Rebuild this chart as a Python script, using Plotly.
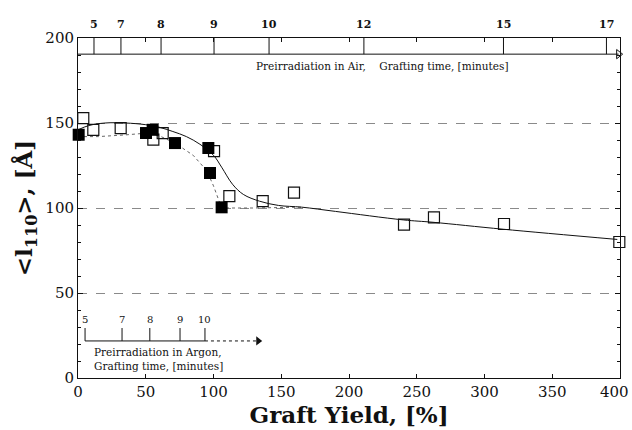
import plotly.graph_objects as go

# Crystallite size <l110> versus graft yield
# open squares: preirradiation in air; filled squares: preirradiation in argon
air_yield = [3.9, 11.3, 31.5, 55.6, 62.5, 100.4, 111.7, 136.3, 159.4, 240.6, 262.7, 314.4, 399.5]
air_l110 = [152.9, 146.0, 147.0, 140.2, 144.1, 133.5, 107.0, 104.0, 109.0, 90.2, 94.5, 90.6, 80.0]

argon_yield = [0.5, 50.2, 55.1, 71.6, 96.2, 97.4, 106.0]
argon_l110 = [143.1, 144.1, 146.0, 138.2, 135.3, 120.6, 100.4]

# trend curves
air_curve_yield = [0, 8, 20, 35, 50, 60, 70, 80, 90, 100, 106, 114, 122, 134, 148, 165, 190, 240, 262, 314, 398]
air_curve_l110 = [146, 148.5, 150, 150, 149, 147.5, 145, 142, 137.5, 131, 124, 114, 108, 104, 101.5, 100.5, 98, 93, 91.6, 87.5, 81.5]

argon_curve_yield = [0, 15, 35, 50, 60, 72, 85, 95, 100, 106, 130, 165]
argon_curve_l110 = [142, 142, 143, 144, 142.5, 138, 131, 122, 113, 100, 100, 100.5]

# grafting-time scales (minutes) and the graft yields they correspond to
air_minutes = [5, 7, 8, 9, 10, 12, 15, 17]
air_minutes_yield = [11.8, 31.7, 61.3, 100.4, 141.0, 211.0, 314.0, 390.0]
argon_minutes = [5, 7, 8, 9, 10]
argon_minutes_yield = [5.2, 32.5, 53.0, 75.3, 93.7]

# levels of the two time scales on the <l110> axis
air_scale_top = 200.0
air_scale_base = 190.5
air_scale_end = 399.0
argon_scale_base = 21.8
argon_tick_top = 29.4
argon_label_level = 34.7
argon_scale_end = 133.0

x_ticks = [0, 50, 100, 150, 200, 250, 300, 350, 400]
y_ticks = [0, 50, 100, 150, 200]

SERIF = "DejaVu Serif"
INK = "#111111"

fig = go.Figure()

# trend curves
fig.add_trace(go.Scatter(
    x=argon_curve_yield, y=argon_curve_l110, mode="lines",
    line=dict(color="#666666", width=1, dash="dot"), hoverinfo="skip", showlegend=False))
fig.add_trace(go.Scatter(
    x=air_curve_yield, y=air_curve_l110, mode="lines", line_shape="spline",
    line=dict(color=INK, width=1), hoverinfo="skip", showlegend=False))

# air time scale: base line and vertical markers
air_seg_x, air_seg_y = [], []
for xv in air_minutes_yield:
    air_seg_x += [xv, xv, None]
    air_seg_y += [air_scale_base, air_scale_top + 2.5, None]
fig.add_trace(go.Scatter(
    x=air_seg_x, y=air_seg_y, mode="lines", line=dict(color=INK, width=1),
    cliponaxis=False, hoverinfo="skip", showlegend=False))
fig.add_trace(go.Scatter(
    x=[0, air_scale_end], y=[air_scale_base, air_scale_base], mode="lines",
    line=dict(color=INK, width=1), cliponaxis=False, hoverinfo="skip", showlegend=False))
fig.add_trace(go.Scatter(
    x=[air_scale_end], y=[air_scale_base], mode="markers",
    marker=dict(symbol="triangle-right-open", size=8, color=INK, line=dict(width=1)),
    cliponaxis=False, hoverinfo="skip", showlegend=False))

# argon time scale
arg_seg_x, arg_seg_y = [], []
for xv in argon_minutes_yield:
    arg_seg_x += [xv, xv, None]
    arg_seg_y += [argon_scale_base, argon_tick_top, None]
fig.add_trace(go.Scatter(
    x=arg_seg_x, y=arg_seg_y, mode="lines", line=dict(color=INK, width=1),
    hoverinfo="skip", showlegend=False))
fig.add_trace(go.Scatter(
    x=[argon_minutes_yield[0], argon_minutes_yield[-1]], y=[argon_scale_base] * 2,
    mode="lines", line=dict(color=INK, width=1), hoverinfo="skip", showlegend=False))
fig.add_trace(go.Scatter(
    x=[argon_minutes_yield[-1], argon_scale_end], y=[argon_scale_base] * 2,
    mode="lines", line=dict(color=INK, width=1, dash="dot"), hoverinfo="skip", showlegend=False))
fig.add_trace(go.Scatter(
    x=[argon_scale_end], y=[argon_scale_base], mode="markers",
    marker=dict(symbol="triangle-right", size=8, color=INK),
    hoverinfo="skip", showlegend=False))

# data points
fig.add_trace(go.Scatter(
    x=air_yield, y=air_l110, mode="markers", name="Air",
    marker=dict(symbol="square-open", size=11, color=INK, line=dict(width=1.2)),
    cliponaxis=False, showlegend=False))
fig.add_trace(go.Scatter(
    x=argon_yield, y=argon_l110, mode="markers", name="Argon",
    marker=dict(symbol="square", size=12, color="#000000"),
    cliponaxis=False, showlegend=False))

annotations = []
for m, xv in zip(air_minutes, air_minutes_yield):
    annotations.append(dict(
        x=xv, y=air_scale_top, xref="x", yref="y", text=f"<b>{m}</b>", showarrow=False,
        yanchor="bottom", yshift=5, font=dict(family=SERIF, size=11, color=INK)))
for m, xv in zip(argon_minutes, argon_minutes_yield):
    annotations.append(dict(
        x=xv, y=argon_label_level, xref="x", yref="y", text=str(m), showarrow=False,
        font=dict(family=SERIF, size=10, color=INK)))
annotations.append(dict(
    x=130, y=183.6, xref="x", yref="y", xanchor="left", showarrow=False,
    text="Preirradiation in Air,\u00a0\u00a0\u00a0 Grafting time, [minutes]",
    font=dict(family=SERIF, size=10.5, color=INK)))
annotations.append(dict(
    x=10.3, y=10.9, xref="x", yref="y", xanchor="left", align="left", showarrow=False,
    text="Preirradiation in Argon,<br>Grafting time, [minutes]",
    font=dict(family=SERIF, size=10.5, color=INK)))
# the last x label sits flush against the right edge of the figure
annotations.append(dict(
    x=x_ticks[-1], y=0, xref="x", yref="y", xanchor="right", yanchor="middle",
    xshift=11, yshift=-14, text=str(x_ticks[-1]), showarrow=False,
    font=dict(family=SERIF, size=15, color=INK)))

fig.update_layout(
    width=632, height=430,
    margin=dict(l=78, r=12, t=38, b=52),
    paper_bgcolor="white", plot_bgcolor="white",
    font=dict(family=SERIF, color=INK),
    annotations=annotations,
    xaxis=dict(
        range=[0, 400], tickvals=x_ticks[:-1], showgrid=False, zeroline=False,
        automargin=False,
        showline=True, linecolor=INK, linewidth=1, mirror="allticks",
        ticks="inside", ticklen=4, tickcolor=INK,
        tickfont=dict(family=SERIF, size=15, color=INK),
        title=dict(text="<b>Graft Yield, [%]</b>", standoff=2,
                   font=dict(family=SERIF, size=23, color=INK))),
    yaxis=dict(
        range=[0, 200], tickvals=y_ticks, showgrid=True, gridcolor="#8a8a8a",
        griddash="dash", gridwidth=1, zeroline=False, automargin=False,
        showline=True, linecolor=INK, linewidth=1, mirror="allticks",
        ticks="inside", ticklen=5, tickcolor=INK,
        minor=dict(dtick=10, ticks="inside", ticklen=3, tickcolor=INK, showgrid=False),
        tickfont=dict(family=SERIF, size=15, color=INK),
        title=dict(text="<b>&lt;l<sub>110</sub>&gt;, [Å]</b>", standoff=6,
                   font=dict(family=SERIF, size=23, color=INK))),
)

fig.write_html("out.html")
